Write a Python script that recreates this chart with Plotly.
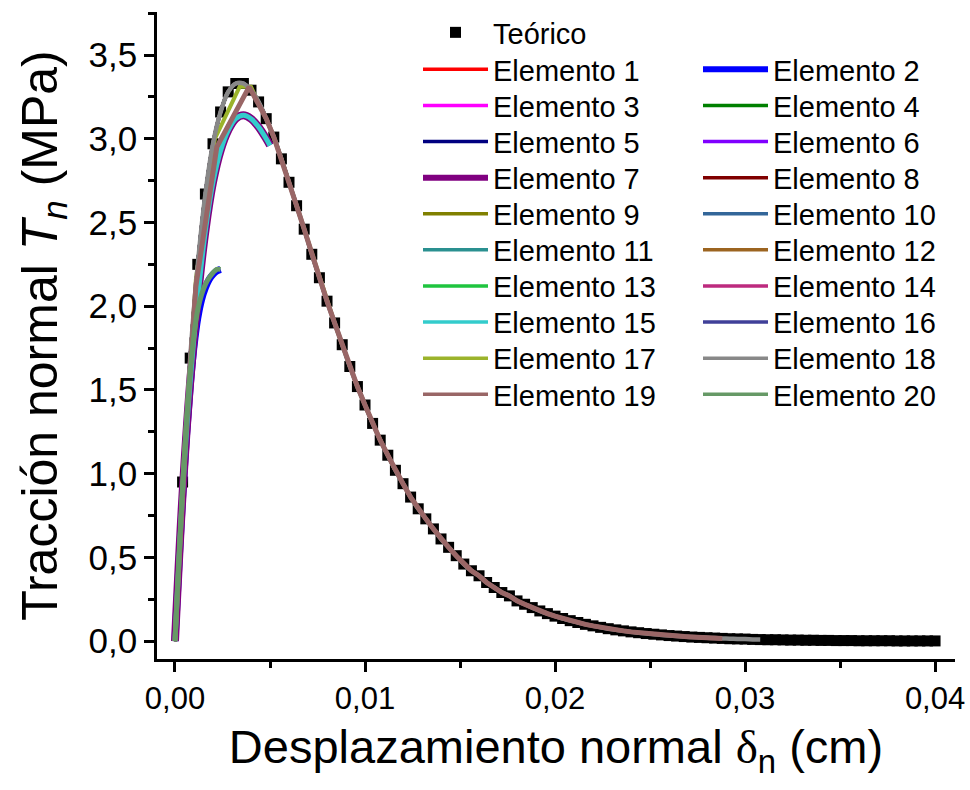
import plotly.graph_objects as go

# ---------------- data ----------------
delta_teo = [0.0000, 0.0004, 0.0008, 0.0012, 0.0016, 0.0020, 0.0024, 0.0028, 0.0032, 0.0036,
             0.0040, 0.0044, 0.0048, 0.0052, 0.0056, 0.0060, 0.0064, 0.0068, 0.0072, 0.0076,
             0.0080, 0.0084, 0.0088, 0.0092, 0.0096, 0.0100, 0.0104, 0.0108, 0.0112, 0.0116,
             0.0120, 0.0124, 0.0128, 0.0132, 0.0136, 0.0140, 0.0144, 0.0148, 0.0152, 0.0156,
             0.0160, 0.0164, 0.0168, 0.0172, 0.0176, 0.0180, 0.0184, 0.0188, 0.0192, 0.0196,
             0.0200, 0.0204, 0.0208, 0.0212, 0.0216, 0.0220, 0.0224, 0.0228, 0.0232, 0.0236,
             0.0240, 0.0244, 0.0248, 0.0252, 0.0256, 0.0260, 0.0264, 0.0268, 0.0272, 0.0276,
             0.0280, 0.0284, 0.0288, 0.0292, 0.0296, 0.0300, 0.0304, 0.0308, 0.0312, 0.0316,
             0.0320, 0.0324, 0.0328, 0.0332, 0.0336, 0.0340, 0.0344, 0.0348, 0.0352, 0.0356,
             0.0360, 0.0364, 0.0368, 0.0372, 0.0376, 0.0380, 0.0384, 0.0388, 0.0392, 0.0396,
             0.0400]
t_teo = [0.00, 0.95, 1.69, 2.25, 2.67, 2.97, 3.16, 3.28, 3.33, 3.33,
         3.29, 3.22, 3.12, 3.01, 2.88, 2.74, 2.60, 2.46, 2.31, 2.17,
         2.03, 1.90, 1.77, 1.64, 1.52, 1.41, 1.30, 1.20, 1.11, 1.02,
         0.94, 0.86, 0.79, 0.73, 0.67, 0.61, 0.56, 0.51, 0.46, 0.42,
         0.39, 0.35, 0.32, 0.29, 0.27, 0.24, 0.22, 0.20, 0.18, 0.164,
         0.149, 0.135, 0.122, 0.111, 0.100, 0.091, 0.082, 0.074, 0.067, 0.061,
         0.055, 0.050, 0.045, 0.041, 0.037, 0.033, 0.030, 0.027, 0.024, 0.022,
         0.020, 0.018, 0.016, 0.014, 0.013, 0.012, 0.010, 0.009, 0.008, 0.008,
         0.007, 0.006, 0.006, 0.005, 0.005, 0.004, 0.004, 0.003, 0.003, 0.003,
         0.002, 0.002, 0.002, 0.002, 0.002, 0.001, 0.001, 0.001, 0.001, 0.001,
         0.001]

element_names = ["Elemento %d" % i for i in range(1, 21)]
element_colors = ["#FF0000", "#0000FF", "#FF00FF", "#008000", "#000080",
                  "#8000FF", "#800080", "#800000", "#808000", "#336699",
                  "#2A9090", "#9C6420", "#1FC43F", "#BD2A7E", "#33CCCC",
                  "#404099", "#9BB32B", "#888888", "#996666", "#669966"]
element_widths = [3.5, 7, 3.5, 3.5, 3.5, 3.5, 8, 3.5, 3.5, 3.5,
                  3.5, 3.5, 3.5, 3.5, 5, 3.5, 4, 4.5, 5, 5]
legend_widths = [3.5, 6, 3.5, 3.5, 3.5, 3.5, 6, 3.5, 3.5, 3.5,
                 3.5, 3.5, 3.5, 3.5, 3.5, 3.5, 3.5, 3.5, 3.5, 3.5]

# maximum displacement reached by the elements that follow the theoretical law
delta_max = {1: 0.0096, 3: 0.0072, 4: 0.0108, 5: 0.0124, 6: 0.0064, 8: 0.0088,
             9: 0.0100, 10: 0.0204, 11: 0.0092, 12: 0.0160, 13: 0.0080,
             14: 0.0068, 16: 0.0236, 18: 0.0308}

# element 2 / element 20 (early failure branch)
delta_e2 = [0.0, 0.0002, 0.0004, 0.0006, 0.0008, 0.0010, 0.0012, 0.0014, 0.0016, 0.0018, 0.0020, 0.0022, 0.0024]
t_e2 = [0.0, 0.44, 0.86, 1.22, 1.52, 1.76, 1.93, 2.04, 2.11, 2.16, 2.19, 2.21, 2.22]
delta_e20 = [0.0, 0.0002, 0.0004, 0.0006, 0.0008, 0.0010, 0.0012, 0.0014, 0.0016, 0.0018, 0.0020, 0.0022, 0.0024]
t_e20 = [0.0, 0.48, 0.92, 1.30, 1.60, 1.83, 1.98, 2.07, 2.13, 2.17, 2.20, 2.22, 2.22]

# element 7 / element 15 (lower peak branch)
delta_e15 = [0.0, 0.0004, 0.0008, 0.0012, 0.0016, 0.0020, 0.0024, 0.0028, 0.0032, 0.0036, 0.0040, 0.0044, 0.0048, 0.0050]
t_e15 = [0.0, 0.88, 1.55, 2.05, 2.45, 2.74, 2.93, 3.05, 3.12, 3.14, 3.12, 3.07, 3.00, 2.96]

# elements 17 and 19: coarse head near the peak, then along the law
delta_e17_head = [0.0, 0.00055, 0.0011, 0.0021, 0.0034, 0.0040]
t_e17_head = [0.0, 1.22, 2.16, 3.00, 3.31, 3.31]
e17_tail = (0.0048, 0.0116)
delta_e19_head = [0.0, 0.00055, 0.0011, 0.0022, 0.0039]
t_e19_head = [0.0, 1.20, 2.12, 2.95, 3.31]
e19_tail = (0.0048, 0.0288)

x_ticks = [0.00, 0.01, 0.02, 0.03, 0.04]
y_ticks = [0.0, 0.5, 1.0, 1.5, 2.0, 2.5, 3.0, 3.5]


def along_law(lo, hi):
    xs, ys = [], []
    for d, t in zip(delta_teo, t_teo):
        if lo - 1e-9 <= d <= hi + 1e-9:
            xs.append(d)
            ys.append(t)
    return xs, ys


# ---------------- geometry of the page ----------------
W, H = 970, 790
ML, MR, MT, MB = 157, 15, 12, 131
PW, PH = W - ML - MR, H - MT - MB
ITEMW = 65


def legend_box(text_left_px, row_center_px):
    left = text_left_px - (ITEMW + 10)
    top = row_center_px - 26
    return dict(x=(left - ML) / PW, y=(H - MB - top) / PH, xanchor="left", yanchor="top",
                bgcolor="rgba(0,0,0,0)", font=dict(size=29), itemwidth=ITEMW,
                borderwidth=0, visible=True)


fig = go.Figure()
fig.add_trace(go.Scatter(x=delta_teo[1:], y=t_teo[1:], mode="markers", name="Teórico",
                         marker=dict(symbol="square", size=11, color="black"),
                         legend="legend", showlegend=True))

layout_legends = {"legend": legend_box(493, 33)}

for i in range(1, 21):
    if i == 2:
        xs, ys = delta_e2, t_e2
    elif i == 20:
        xs, ys = delta_e20, t_e20
    elif i in (7, 15):
        xs, ys = delta_e15, t_e15
    elif i == 17:
        tx, ty = along_law(*e17_tail)
        xs, ys = delta_e17_head + tx, t_e17_head + ty
    elif i == 19:
        tx, ty = along_law(*e19_tail)
        xs, ys = delta_e19_head + tx, t_e19_head + ty
    else:
        xs, ys = along_law(0.0, delta_max[i])
    shape = "linear" if i in (17, 19) else "spline"
    fig.add_trace(go.Scatter(
        x=xs, y=ys, mode="lines", name=element_names[i - 1], legendgroup="e%d" % i,
        line=dict(color=element_colors[i - 1], width=element_widths[i - 1], shape=shape),
        showlegend=False))

# legend entries (two columns, ten rows)
for i in range(1, 21):
    col, row = (i - 1) % 2, (i - 1) // 2
    lid = "legend%d" % (i + 1)
    layout_legends[lid] = legend_box(493 if col == 0 else 773, 70 + 36.1 * row)
    fig.add_trace(go.Scatter(
        x=[None], y=[None], mode="lines", name=element_names[i - 1], legendgroup="e%d" % i,
        line=dict(color=element_colors[i - 1], width=legend_widths[i - 1]),
        legend=lid, showlegend=True, hoverinfo="skip"))

axis_common = dict(showline=True, linecolor="black", linewidth=2.5, mirror=False,
                   showgrid=False, zeroline=False, ticks="outside", ticklen=10,
                   tickwidth=2.5, tickcolor="black")

fig.update_layout(
    width=W, height=H,
    margin=dict(l=ML, r=MR, t=MT, b=MB, autoexpand=False),
    paper_bgcolor="white", plot_bgcolor="white",
    separators=",.", showlegend=True,
    font=dict(family="Liberation Sans, Arial, sans-serif", color="black", size=28),
    xaxis=dict(axis_common, range=[-0.000947, 0.04105], tickmode="array", tickvals=x_ticks,
               tickformat=".2f", tickfont=dict(size=31), ticklabeloverflow="allow",
               minor=dict(dtick=0.005, tick0=0, ticks="outside", ticklen=6, tickwidth=2.5, tickcolor="black"),
               title=dict(text='Desplazamiento normal <span style="font-family:Liberation Serif">δ</span><sub>n</sub> (cm)',
                          font=dict(size=47), standoff=16)),
    yaxis=dict(axis_common, range=[-0.107, 3.757], tickmode="array", tickvals=y_ticks,
               tickformat=".1f", tickfont=dict(size=35),
               minor=dict(dtick=0.25, tick0=0, ticks="outside", ticklen=6, tickwidth=2.5, tickcolor="black"),
               title=dict(text="Tracción normal <i>T<sub>n</sub></i> (MPa)", font=dict(size=50),
                          standoff=16)),
    **layout_legends,
)

fig.write_html("out.html")
